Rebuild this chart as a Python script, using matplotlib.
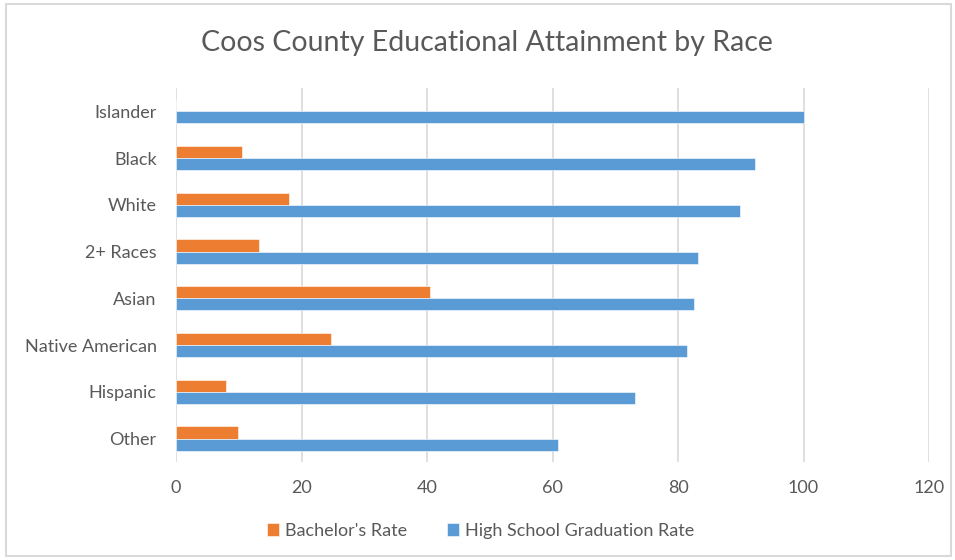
import matplotlib
matplotlib.use('Agg')
import matplotlib.pyplot as plt
from matplotlib.patches import Rectangle
import numpy as np

# categories listed bottom to top
races = ['Other', 'Hispanic', 'Native American', 'Asian', '2+ Races',
         'White', 'Black', 'Islander']
bachelors_rate = [9.8, 8.0, 24.7, 40.4, 13.3, 18.0, 10.5, 0.0]
hs_grad_rate = [60.8, 73.1, 81.4, 82.6, 83.2, 89.9, 92.3, 100.0]
x_ticks = [0, 20, 40, 60, 80, 100, 120]

ORANGE = '#ED7D31'
BLUE = '#5B9BD5'
TEXT = '#595959'
GRID = '#D9D9D9'

plt.rcParams['font.family'] = ['Lato', 'DejaVu Sans']

fig = plt.figure(figsize=(9.55, 5.6), dpi=100)
ax = fig.add_axes([0.1843, 0.175, 0.7885, 0.668])

y = np.arange(len(races))
h = 0.26
ax.barh(y + h / 2, bachelors_rate, height=h, color=ORANGE,
        edgecolor='white', linewidth=0.4, label="Bachelor's Rate", zorder=3)
ax.barh(y - h / 2, hs_grad_rate, height=h, color=BLUE,
        edgecolor='white', linewidth=0.4, label='High School Graduation Rate',
        zorder=3)

ax.set_xlim(0, 120)
ax.set_ylim(-0.5, len(races) - 0.5)
ax.set_xticks(x_ticks)
ax.set_yticks(y)
ax.set_yticklabels(races)
ax.tick_params(axis='both', length=0, colors=TEXT, labelsize=13)
ax.tick_params(axis='x', pad=13)
ax.tick_params(axis='y', pad=14)
ax.grid(axis='x', color=GRID, linewidth=1.2, zorder=0)
for s in ax.spines.values():
    s.set_visible(False)

fig.text(0.51, 0.923, 'Coos County Educational Attainment by Race',
         ha='center', va='center', fontsize=20.5, color=TEXT)

fig.legend(loc='center', bbox_to_anchor=(0.503, 0.052), ncol=2,
           frameon=False, fontsize=13, handlelength=0.7, handleheight=0.7,
           handletextpad=0.3, columnspacing=2.2, labelcolor=TEXT)

fig.patches.append(Rectangle((0.006, 0.007), 0.99, 0.985,
                             transform=fig.transFigure, fill=False,
                             edgecolor=GRID, linewidth=1.5))

fig.savefig('out.png', dpi=100, facecolor='white')
